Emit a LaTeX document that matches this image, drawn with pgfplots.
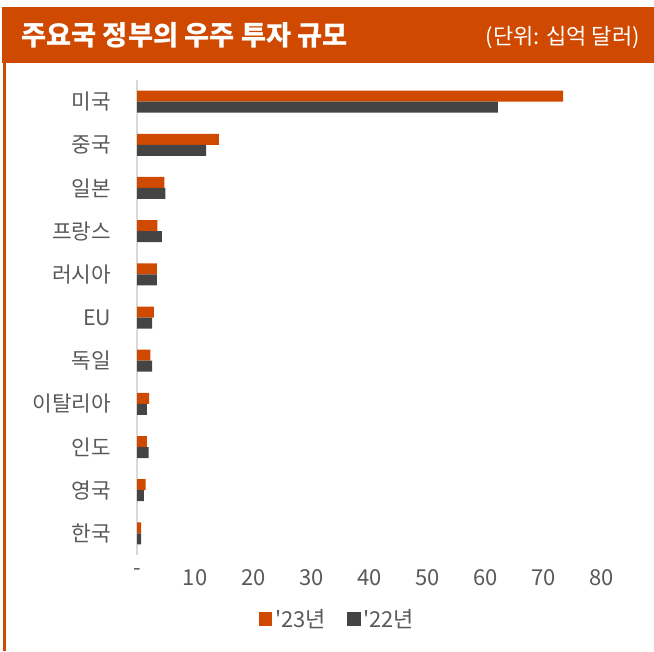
\documentclass[border=0pt]{standalone}
\usepackage{pgfplots}
\pgfplotsset{compat=1.18}
\usepackage{fontspec}
\setmainfont{Noto Sans CJK KR}

\definecolor{hdr}{RGB}{207,74,0}
\definecolor{bar23}{RGB}{207,74,0}
\definecolor{bar22}{RGB}{68,68,68}
\definecolor{axgray}{RGB}{217,217,217}
\definecolor{txt}{RGB}{89,89,89}

\begin{document}
\begin{tikzpicture}[x=0.75pt,y=0.75pt]
\useasboundingbox (0,0) rectangle (654,651);
% header band and left rule
\fill[hdr] (2,588) rectangle (654,644);
\fill[hdr] (3,0) rectangle (6,588);
\node[anchor=west, text=white, inner sep=0pt, font=\fontsize{20.5}{24}\selectfont\bfseries] at (21,616) {주요국 정부의 우주 투자 규모};
\node[anchor=east, text=white, inner sep=0pt, font=\fontsize{16.5}{19}\selectfont] at (640,613) {(단위: 십억 달러)};

\begin{axis}[
  at={(102.75pt,72pt)}, anchor=south west,
  scale only axis,
  width=348.75pt, height=356.25pt,
  xbar, bar width=8.25pt,
  xmin=0, xmax=80,
  ymin=-0.5, ymax=10.5,
  axis lines*=left,
  x axis line style={draw=none},
  y axis line style={axgray, line width=2pt},
  major tick length=0pt,
  xtick={0,10,20,30,40,50,60,70,80},
  xticklabels={-,10,20,30,40,50,60,70,80},
  ytick={0,1,2,3,4,5,6,7,8,9,10},
  yticklabels={한국,영국,인도,이탈리아,독일,EU,러시아,프랑스,일본,중국,미국},
  xticklabel style={font=\fontsize{16.5}{18}\selectfont, text=txt, yshift=-7pt},
  yticklabel style={font=\fontsize{16}{18}\selectfont, text=txt, xshift=-16pt},
  legend columns=2,
  legend style={at={(0.432,-0.135)}, anchor=center, draw=none, fill=none,
    font=\fontsize{16.5}{18}\selectfont, text=txt,
    /tikz/every even column/.append style={column sep=14pt}},
]
\addplot[fill=bar23, draw=none, bar shift=4.125pt,
  legend image code/.code={\fill[bar23] (0pt,-5pt) rectangle (10pt,5pt);}]
coordinates {
(73.3,10) (14.1,9) (4.7,8) (3.5,7) (3.4,6) (2.9,5)
(2.3,4) (2.1,3) (1.7,2) (1.5,1) (0.7,0)
};
\addlegendentry{\textquotesingle 23년}
\addplot[fill=bar22, draw=none, bar shift=-4.125pt,
  legend image code/.code={\fill[bar22] (0pt,-5pt) rectangle (10pt,5pt);}]
coordinates {
(62.1,10) (11.9,9) (4.9,8) (4.3,7) (3.4,6) (2.6,5)
(2.6,4) (1.7,3) (2.0,2) (1.2,1) (0.7,0)
};
\addlegendentry{\textquotesingle 22년}
\end{axis}
\end{tikzpicture}
\end{document}
